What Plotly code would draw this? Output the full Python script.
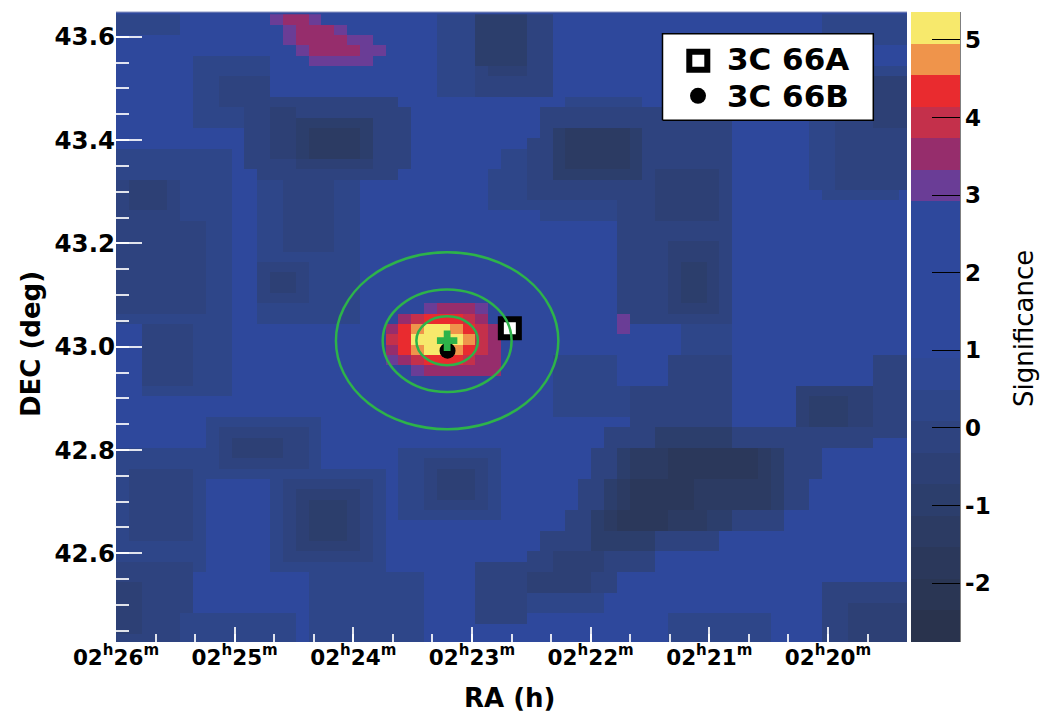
import numpy as np
import plotly.graph_objects as go

# ---------------------------------------------------------------------------
# Significance map, one string per row from north (top) to south (bottom),
# one character per pixel from east (left) to west (right).
# Characters are colour levels of the 20-step significance palette:
#   '2'..'7' darker blue levels, '9' plain blue, P/M/C/R/O/Y the hot levels.
# ---------------------------------------------------------------------------
SIG_ROWS = [
    "7"*5 + "9"*7 + "PMMP" + "9"*9 + "777" + "4"*4 + "66" + "9"*21 + "7"*7,
    "7"*5 + "9"*8 + "PMMMP" + "9"*7 + "777" + "4"*4 + "66" + "9"*21 + "7"*7,
    "9"*13 + "PMMMMPP" + "9"*5 + "777" + "4"*4 + "66" + "9"*21 + "7"*7,
    "9"*14 + "PMMMMPP" + "9"*4 + "777" + "4"*4 + "66" + "9"*28,
    "9"*6 + "7"*6 + "9"*3 + "P"*5 + "9"*5 + "777" + "4"*4 + "66" + "9"*28,
    "9"*6 + "7"*6 + "9"*13 + "777" + "6" + "555" + "66" + "9"*20 + "7"*8,
    "9"*6 + "77" + "6"*4 + "9"*13 + "777" + "6"*6 + "9"*20 + "7"*5 + "555",
    "9"*6 + "77" + "6"*4 + "9"*13 + "777" + "6"*6 + "9"*20 + "77" + "666" + "555",
    "9"*6 + "77" + "6"*14 + "9"*13 + "7"*6 + "9"*13 + "77" + "666" + "555",
    "9"*6 + "7"*4 + "66" + "55" + "6"*9 + "9"*10 + "6"*15 + "9"*6 + "77" + "666" + "555",
    "9"*6 + "7"*4 + "66" + "55" + "4"*6 + "666" + "9"*10 + "6"*15 + "9"*6 + "77" + "666" + "555",
    "9"*10 + "66" + "55" + "4" + "3"*4 + "4" + "666" + "9"*10 + "6" + "4" + "3"*5 + "4" + "6"*7 + "9"*6 + "77" + "6"*6,
    "9"*10 + "66" + "55" + "4" + "3"*4 + "4" + "666" + "9"*9 + "66" + "4" + "3"*5 + "4" + "6"*7 + "9"*6 + "77" + "6"*6,
    "7"*9 + "9" + "66" + "55" + "4" + "3"*4 + "4" + "666" + "9"*7 + "77" + "66" + "4" + "3"*5 + "4" + "6"*7 + "9"*6 + "77" + "6"*6,
    "7"*9 + "9" + "6"*4 + "5"*6 + "666" + "9"*7 + "77" + "66" + "4" + "3"*5 + "4" + "6"*7 + "9"*6 + "77" + "6"*6,
    "7"*9 + "99" + "6"*11 + "9"*7 + "777" + "66" + "4"*7 + "6" + "5"*5 + "6" + "9"*6 + "77" + "6"*6,
    "6" + "555" + "6" + "7"*4 + "99" + "77" + "6"*4 + "77" + "9"*10 + "777" + "6"*10 + "5"*5 + "6" + "9"*6 + "77" + "6"*6,
    "6" + "555" + "6" + "7"*4 + "99" + "77" + "6"*4 + "77" + "9"*10 + "777" + "6"*10 + "5"*5 + "6" + "9"*7 + "7"*6 + "9",
    "6" + "555" + "6" + "7"*4 + "99" + "77" + "6"*4 + "77" + "9"*10 + "777" + "7" + "7"*6 + "666" + "5"*5 + "6" + "9"*14,
    "6"*5 + "7"*4 + "99" + "77" + "6"*4 + "77" + "9"*14 + "7"*6 + "666" + "5"*5 + "6" + "9"*14,
    "6"*7 + "77" + "99" + "77" + "6"*4 + "77" + "9"*20 + "6"*9 + "9"*14,
    "6"*7 + "77" + "99" + "77" + "6"*4 + "77" + "9"*20 + "6"*9 + "9"*14,
    "6"*7 + "77" + "99" + "77" + "6"*4 + "77" + "9"*20 + "6"*4 + "5"*4 + "6" + "9"*14,
    "6"*7 + "77" + "99" + "7"*8 + "9"*20 + "6"*4 + "5"*4 + "6" + "9"*14,
    "6"*7 + "77" + "99" + "6"*4 + "7"*4 + "9"*20 + "6"*4 + "5" + "44" + "5" + "6" + "9"*14,
    "6"*7 + "77" + "99" + "6" + "55" + "6" + "7"*4 + "9"*20 + "6"*4 + "5" + "44" + "5" + "6" + "9"*14,
    "6"*7 + "77" + "99" + "6" + "55" + "6" + "7"*4 + "9"*20 + "6"*4 + "5" + "44" + "5" + "6" + "9"*14,
    "6"*7 + "77" + "99" + "6"*4 + "7"*4 + "9"*20 + "6"*4 + "5" + "44" + "5" + "6" + "9"*14,
    "6"*7 + "77" + "99" + "7"*8 + "9"*5 + "PMMMP" + "9"*10 + "6"*4 + "5"*4 + "6" + "9"*14,
    "7"*9 + "99" + "7"*8 + "999" + "MCRRRCM" + "9"*10 + "P" + "6"*8 + "9"*14,
    "99" + "6"*4 + "777" + "9"*12 + "MROYYORCM" + "9"*9 + "P" + "9"*4 + "7"*4 + "9"*14,
    "99" + "6"*4 + "777" + "9"*12 + "CRYYYYOCM" + "9"*14 + "7"*4 + "9"*14,
    "99" + "6"*4 + "777" + "9"*12 + "MROYYORCM" + "9"*14 + "7"*4 + "9"*14,
    "99" + "6"*4 + "777" + "9"*12 + "PMCRRRCMM" + "9"*4 + "7"*5 + "9"*4 + "6"*5 + "9"*11 + "666",
    "99" + "6"*4 + "777" + "9"*14 + "PMMMMMM" + "9"*4 + "7"*5 + "9"*4 + "6"*5 + "9"*11 + "666",
    "99" + "6"*4 + "777" + "9"*25 + "7"*5 + "9"*4 + "6"*5 + "9"*11 + "666",
    "99" + "7"*7 + "9"*25 + "7"*6 + "6"*8 + "9"*5 + "5"*6 + "666",
    "9"*34 + "7"*6 + "6"*8 + "9"*5 + "5" + "444" + "55" + "666",
    "9"*34 + "7"*6 + "6"*8 + "9"*5 + "5" + "444" + "55" + "666",
    "9"*7 + "7"*9 + "9"*24 + "6"*8 + "9"*5 + "5" + "444" + "55" + "666",
    "9"*7 + "7" + "6"*7 + "7" + "9"*22 + "6"*4 + "4"*6 + "6"*11 + "666",
    "9"*7 + "7" + "6" + "5"*4 + "66" + "7" + "9"*22 + "6"*4 + "4"*6 + "6"*11 + "999",
    "7"*7 + "7" + "6" + "5"*4 + "66" + "7" + "9"*6 + "7"*8 + "9"*7 + "66" + "4" + "333" + "2"*7 + "3" + "4" + "666" + "9"*7,
    "7"*8 + "6"*7 + "7" + "9"*6 + "77" + "6"*5 + "7" + "9"*7 + "66" + "4" + "333" + "2"*7 + "3" + "4" + "666" + "9"*7,
    "7" + "6"*5 + "7" + "7"*14 + "9" + "77" + "6" + "555" + "6" + "7" + "9"*7 + "66" + "4" + "333" + "2"*7 + "3" + "4" + "666" + "9"*7,
    "7" + "6"*5 + "7" + "9"*5 + "7" + "6"*7 + "7" + "9" + "77" + "6" + "555" + "6" + "7" + "9"*6 + "66" + "4" + "3" + "2"*5 + "3"*6 + "4" + "66" + "9"*8,
    "7" + "6"*5 + "7" + "9"*5 + "7" + "6" + "5"*5 + "6" + "7" + "9" + "77" + "6" + "555" + "6" + "7" + "9"*6 + "66" + "4" + "3" + "2"*5 + "3"*6 + "4" + "66" + "9"*8,
    "7" + "6"*5 + "7" + "9"*5 + "7" + "6" + "5" + "444" + "5" + "6" + "7" + "9" + "77" + "6"*5 + "7" + "9"*6 + "66" + "4" + "3" + "2"*5 + "3"*6 + "4" + "66" + "9"*8,
    "7" + "6"*5 + "7" + "9"*5 + "7" + "6" + "5" + "444" + "5" + "6" + "7" + "9" + "7"*8 + "9"*5 + "66" + "4" + "3" + "2"*4 + "333" + "44" + "6"*4 + "9"*10,
    "7" + "6"*5 + "7" + "9"*5 + "7" + "6" + "5" + "444" + "5" + "6" + "7" + "9"*14 + "66" + "4" + "3" + "2"*4 + "333" + "44" + "6"*4 + "9"*10,
    "7" + "6"*5 + "7" + "9"*5 + "7" + "6" + "5" + "444" + "5" + "6" + "7" + "9"*12 + "6"*4 + "4"*5 + "6"*5 + "9"*15,
    "7"*7 + "9"*5 + "7" + "6" + "5"*5 + "6" + "7" + "9"*12 + "6"*4 + "4"*5 + "6"*5 + "9"*15,
    "7"*7 + "9"*5 + "7" + "6"*7 + "7" + "9"*11 + "66" + "5"*4 + "6"*4 + "9"*20,
    "6"*6 + "7" + "9"*5 + "7"*9 + "9"*7 + "6"*4 + "66" + "5"*4 + "6"*4 + "9"*20,
    "6"*6 + "9"*9 + "7"*9 + "9"*4 + "6"*4 + "5"*5 + "66" + "9"*23,
    "55" + "6"*4 + "9"*9 + "7"*9 + "9"*4 + "6"*4 + "5"*5 + "66" + "9"*16 + "6"*7,
    "55" + "6"*4 + "9"*9 + "7"*9 + "9"*4 + "6"*4 + "7"*6 + "9"*17 + "6"*7,
    "55" + "6"*4 + "9"*9 + "7"*9 + "9"*4 + "6"*4 + "7"*6 + "9"*17 + "66" + "5"*5,
    "55" + "666" + "7"*9 + "9" + "7"*9 + "9"*4 + "6"*4 + "9"*11 + "7"*8 + "9"*4 + "66" + "5"*5,
    "55" + "666" + "7"*9 + "9" + "7"*9 + "9"*19 + "7"*8 + "9"*4 + "66" + "5"*5,
    "6"*5 + "7"*9 + "9" + "7"*9 + "9"*19 + "7"*8 + "9"*4 + "66" + "5"*5,
]

CODE_LEVEL = {"2": 2, "3": 3, "4": 4, "5": 5, "6": 6, "7": 7, "9": 10,
              "P": 14, "M": 15, "C": 16, "R": 17, "O": 18, "Y": 19}

# Palette: 20 equal steps between Z_MIN and Z_MAX
Z_MIN, Z_MAX = -2.76, 5.36
LEVEL_COLORS = [
    "#29334d", "#2a3654", "#2b385b", "#2c3b63", "#2c3e6c", "#2d4075",
    "#2e437f", "#2e4689", "#2f4895", "#2e489c", "#2e489c", "#2e489c",
    "#2e489c", "#2e489c", "#6a3d96", "#962d6c", "#c4304b", "#e92b2f",
    "#ef944b", "#f7e96c",
]

# Pixel grid (RA in minutes after 02h, Dec in degrees)
N_COLS = 62
RA_LEFT_EDGE = 26.0
COL_WIDTH_MIN = 0.10824
DEC_TOP_EDGE = 43.6436
ROW_HEIGHT_DEG = 0.02

RA_RANGE = [26.0, 19.334]
DEC_RANGE = [42.4283, 43.648]

RA_TICKS = [26, 25, 24, 23, 22, 21, 20]
RA_TICK_TEXT = ["02<sup>h</sup>%d<sup>m</sup>" % m for m in RA_TICKS]
DEC_TICKS = [42.6, 42.8, 43.0, 43.2, 43.4, 43.6]
SIG_TICKS = [-2, -1, 0, 1, 2, 3, 4, 5]
SIG_TICK_TEXT = ["-2", "-1", "0", "1", "2", "3", "4", "5"]

# Known sources
SOURCE_NAMES = ["3C 66A", "3C 66B"]
SOURCE_RA_MIN = [22.681, 23.206]
SOURCE_DEC = [43.0356, 42.9923]

# Fitted position and its confidence circles (radii in degrees on the sky)
FIT_RA_MIN = 23.2094
FIT_DEC = 43.0116
CIRCLE_RADII_DEG = [0.0474, 0.0993, 0.1713]

FONT = "DejaVu Sans"
GREEN = "#2db34a"

# ---------------------------------------------------------------------------
n_levels = len(LEVEL_COLORS)
step = (Z_MAX - Z_MIN) / n_levels
rows = [r.ljust(N_COLS, "9")[:N_COLS] for r in SIG_ROWS]
n_rows = len(rows)
z = [[Z_MIN + (CODE_LEVEL[ch] + 0.5) * step for ch in row] for row in reversed(rows)]

colorscale = []
for k, col in enumerate(LEVEL_COLORS):
    colorscale.append([k / n_levels, col])
    colorscale.append([(k + 1) / n_levels, col])

W, H = 1041, 712
ML, MR, MT, MB = 116, 134, 12, 70
PW, PH = W - ML - MR, H - MT - MB


def px_to_paper(x, y):
    return (x - ML) / PW, (H - MB - y) / PH


fig = go.Figure()

fig.add_trace(go.Heatmap(
    z=z,
    x0=RA_LEFT_EDGE - COL_WIDTH_MIN / 2, dx=-COL_WIDTH_MIN,
    y0=DEC_TOP_EDGE - ROW_HEIGHT_DEG * (n_rows - 0.5), dy=ROW_HEIGHT_DEG,
    zmin=Z_MIN, zmax=Z_MAX, colorscale=colorscale,
    hoverinfo="skip",
    colorbar=dict(
        x=px_to_paper(911, 0)[0], xanchor="left", xpad=0,
        y=0.5, yanchor="middle", len=1, lenmode="fraction", ypad=0,
        thickness=49, thicknessmode="pixels", outlinewidth=0,
        tickmode="array", tickvals=SIG_TICKS, ticktext=SIG_TICK_TEXT,
        ticks="inside", ticklen=28, tickwidth=1, tickcolor="black",
        tickfont=dict(family=FONT, size=23, color="black", weight="bold"),
    ),
))

# confidence circles around the fitted position
cos_dec = np.cos(np.radians(FIT_DEC))
shapes = []
for r in CIRCLE_RADII_DEG:
    dra = r / (0.25 * cos_dec)
    shapes.append(dict(type="circle", xref="x", yref="y",
                       x0=FIT_RA_MIN - dra, x1=FIT_RA_MIN + dra,
                       y0=FIT_DEC - r, y1=FIT_DEC + r,
                       line=dict(color=GREEN, width=2.5), layer="above"))

# colorbar right border and light frame edge along the top of the map
shapes.append(dict(type="line", xref="paper", yref="paper",
                   x0=px_to_paper(960, 0)[0], x1=px_to_paper(960, 0)[0], y0=0, y1=1,
                   line=dict(color="black", width=1)))
shapes.append(dict(type="line", xref="paper", yref="paper", x0=0, x1=1, y0=1, y1=1,
                   line=dict(color="#8f98c4", width=1)))

square_marker = dict(symbol="square", size=18, color="white",
                     line=dict(color="black", width=6))
dot_marker = dict(symbol="circle", size=16, color="black", line=dict(width=0))

fig.add_trace(go.Scatter(x=[SOURCE_RA_MIN[0]], y=[SOURCE_DEC[0]], mode="markers",
                         marker=square_marker, showlegend=False, hoverinfo="skip"))
fig.add_trace(go.Scatter(x=[SOURCE_RA_MIN[1]], y=[SOURCE_DEC[1]], mode="markers",
                         marker=dot_marker, showlegend=False, hoverinfo="skip"))
fig.add_trace(go.Scatter(x=[FIT_RA_MIN], y=[FIT_DEC], mode="markers",
                         marker=dict(symbol="cross", size=17, color=GREEN,
                                     line=dict(width=0)),
                         showlegend=False, hoverinfo="skip"))

# legend box, drawn on an overlay axis pair spanning the plot area (0..1)
bx0, by0 = px_to_paper(662.5, 120.3)
bx1, by1 = px_to_paper(873.3, 33.7)
fig.add_trace(go.Scatter(x=[bx0, bx1, bx1, bx0, bx0], y=[by0, by0, by1, by1, by0],
                         xaxis="x2", yaxis="y2", mode="lines", fill="toself",
                         fillcolor="white", line=dict(color="black", width=1.5),
                         showlegend=False, hoverinfo="skip"))
sx, sy = px_to_paper(698.3, 60.7)
cx, cy = px_to_paper(698.0, 95.8)
fig.add_trace(go.Scatter(x=[sx], y=[sy], xaxis="x2", yaxis="y2", mode="markers",
                         marker=square_marker, showlegend=False, hoverinfo="skip"))
fig.add_trace(go.Scatter(x=[cx], y=[cy], xaxis="x2", yaxis="y2", mode="markers",
                         marker=dot_marker, showlegend=False, hoverinfo="skip"))

annotations = []
for name, ypx in zip(SOURCE_NAMES, [58.7, 95.8]):
    ax, ay = px_to_paper(725.0, ypx)
    annotations.append(dict(x=ax, y=ay, xref="paper", yref="paper", text=name,
                            showarrow=False, xanchor="left", yanchor="middle",
                            font=dict(family=FONT, size=31, color="black", weight="bold")))

tx, ty = px_to_paper(1024, 328)
annotations.append(dict(x=tx, y=ty, xref="paper", yref="paper", text="Significance",
                        showarrow=False, textangle=-90, xanchor="center", yanchor="middle",
                        font=dict(family=FONT, size=26, color="black")))
tx, ty = px_to_paper(31, 344)
annotations.append(dict(x=tx, y=ty, xref="paper", yref="paper", text="DEC (deg)",
                        showarrow=False, textangle=-90, xanchor="center", yanchor="middle",
                        font=dict(family=FONT, size=26, color="black", weight="bold")))
tx, ty = px_to_paper(509, 698)
annotations.append(dict(x=tx, y=ty, xref="paper", yref="paper", text="RA (h)",
                        showarrow=False, xanchor="center", yanchor="middle",
                        font=dict(family=FONT, size=26, color="black", weight="bold")))

tick_col = "rgba(255,255,255,0.85)"
ra_minor = [26 - k / 3 for k in range(0, 21)]
dec_minor = [round(42.45 + 0.05 * k, 2) for k in range(0, 24)]

fig.update_layout(
    width=W, height=H,
    margin=dict(l=ML, r=MR, t=MT, b=MB, pad=0),
    paper_bgcolor="white", plot_bgcolor="#2e489c",
    shapes=shapes, annotations=annotations,
    xaxis=dict(range=RA_RANGE, tickmode="array", tickvals=RA_TICKS, ticktext=RA_TICK_TEXT,
               ticks="inside", ticklen=15, tickwidth=1.5, tickcolor=tick_col,
               minor=dict(tickvals=ra_minor, ticks="inside", ticklen=8, tickwidth=1.5,
                          tickcolor=tick_col, showgrid=False),
               showgrid=False, zeroline=False, showline=False,
               tickfont=dict(family=FONT, size=21.5, color="black", weight="bold")),
    yaxis=dict(range=DEC_RANGE, tickmode="array", tickvals=DEC_TICKS,
               ticktext=["%.1f" % v for v in DEC_TICKS],
               ticks="inside", ticklen=26, tickwidth=1.5, tickcolor=tick_col,
               minor=dict(tickvals=dec_minor, ticks="inside", ticklen=13, tickwidth=1.5,
                          tickcolor=tick_col, showgrid=False),
               showgrid=False, zeroline=False, showline=False,
               tickfont=dict(family=FONT, size=24.5, color="black", weight="bold")),
    xaxis2=dict(overlaying="x", anchor="y2", range=[0, 1], visible=False),
    yaxis2=dict(overlaying="y", anchor="x2", range=[0, 1], visible=False),
    showlegend=False,
)

fig.write_html("out.html")
